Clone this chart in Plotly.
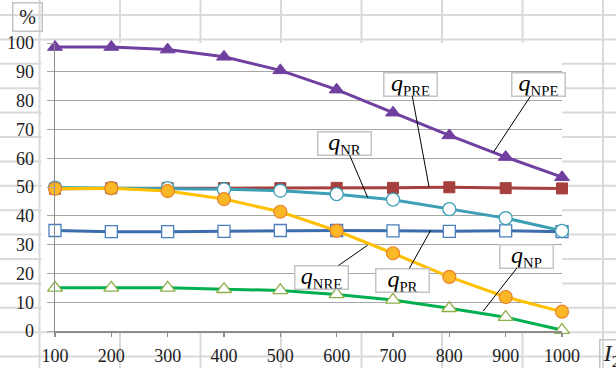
import plotly.graph_objects as go

# ---- data ----
I2 = [100, 200, 300, 400, 500, 600, 700, 800, 900, 1000]
q_NPE = [98.6, 98.6, 97.7, 95.2, 90.5, 83.8, 75.8, 67.9, 60.4, 53.4]
q_PRE = [49.4, 49.6, 49.6, 49.6, 49.6, 49.7, 49.7, 49.9, 49.6, 49.5]
q_NR = [49.8, 49.6, 49.6, 49.2, 48.7, 47.5, 45.6, 42.3, 39.2, 34.8]
q_NRE = [34.9, 34.5, 34.5, 34.6, 34.9, 34.9, 34.8, 34.6, 34.8, 34.5]
q_PR = [49.4, 49.6, 48.6, 45.8, 41.4, 34.8, 27.0, 18.8, 11.8, 6.7]
q_NP = [15.0, 15.0, 15.0, 14.5, 14.1, 12.7, 10.8, 7.9, 4.8, 0.3]
y_ticks = [0, 10, 20, 30, 40, 50, 60, 70, 80, 90, 100]
x_ticks = [100, 200, 300, 400, 500, 600, 700, 800, 900, 1000]

W, H = 616, 368
ML, MR, MT, MB = 55, 54, 43, 37
PW, PH = W - ML - MR, H - MT - MB
SERIF = "Liberation Serif"


def px(x):
    return (x - ML) / PW


def py(y):
    return (H - MB - y) / PH


fig = go.Figure()

series = [
    ("PRE", q_PRE, "#A5403E", dict(symbol="square", size=11, color="#A5403E",
                                    line=dict(color="#A5403E", width=1))),
    ("NRE", q_NRE, "#3E6DAE", dict(symbol="square", size=12, color="white",
                                    line=dict(color="#4A7EBB", width=1.3))),
    ("NR", q_NR, "#3D9FB6", dict(symbol="circle", size=13, color="white",
                                  line=dict(color="#3D9FB6", width=1.3))),
    ("NP", q_NP, "#00B050", dict(symbol="triangle-up", size=13, color="white",
                                  line=dict(color="#8CB04A", width=1.3))),
    ("PR", q_PR, "#FFC000", dict(symbol="circle", size=13, color="#FBB726",
                                  line=dict(color="#E8822A", width=1.2))),
    ("NPE", q_NPE, "#7040A0", dict(symbol="triangle-up", size=13, color="#7040A0",
                                    line=dict(color="#7040A0", width=1))),
]
for name, vals, col, mk in series:
    fig.add_trace(go.Scatter(x=I2, y=vals, mode="lines+markers", name=name,
                             line=dict(color=col, width=3), marker=mk,
                             cliponaxis=False, showlegend=False))

# spreadsheet cell grid behind the chart
shapes = []
for gx in [39.5, 120, 200.5, 281, 361.5, 442, 522.5, 603]:
    shapes.append(dict(type="line", xref="paper", yref="paper", x0=px(gx), x1=px(gx),
                       y0=py(-5), y1=py(H + 5), line=dict(color="#DADADA", width=2),
                       layer="below"))
for k in range(15):
    gy = 15 + 24.4 * k
    shapes.append(dict(type="line", xref="paper", yref="paper", x0=px(-5), x1=px(W + 5),
                       y0=py(gy), y1=py(gy), line=dict(color="#DADADA", width=2),
                       layer="below"))
shapes.append(dict(type="rect", xref="paper", yref="paper", x0=px(41.5), x1=1,
                   y0=0, y1=1, fillcolor="white", line=dict(width=0), layer="below"))
fig.update_layout(shapes=shapes)

# labelled boxes with leader lines
labels = [
    ("PRE", 764, 50.0, -19, -103),
    ("NPE", 878, 62.0, 45, -68),
    ("NR", 655, 46.4, -23, -54),
    ("NRE", 655, 29.8, -46, 32),
    ("PR", 767, 35.0, -28, 50),
    ("NP", 860, 6.9, 43, -55),
]
for sub, tx, ty, ax, ay in labels:
    fig.add_annotation(x=tx, y=ty, ax=ax, ay=ay, xref="x", yref="y",
                       text='<span style="font-size:24px"><i>q</i></span><span style="font-size:21px"><sub>%s</sub></span>' % sub,
                       showarrow=True, arrowhead=0, arrowwidth=1, arrowcolor="black",
                       font=dict(family=SERIF, size=18, color="black"),
                       bgcolor="white", bordercolor="#C4C4C4", borderwidth=1.5,
                       width=52, height=22, borderpad=0)

fig.add_annotation(xref="paper", yref="paper", x=px(12), y=py(2), xanchor="left", yanchor="top",
                   text="%", showarrow=False, font=dict(family=SERIF, size=20, color="#222"),
                   bordercolor="#C4C4C4", borderwidth=1.5, width=28, height=27, borderpad=0)
fig.add_annotation(xref="paper", yref="paper", x=px(599), y=py(339), xanchor="left", yanchor="top",
                   text='<i>I</i><sub>2</sub>', showarrow=False,
                   font=dict(family=SERIF, size=24, color="#222"),
                   bordercolor="#C4C4C4", borderwidth=1.5, width=22, height=30, borderpad=0)

fig.update_layout(
    template="none",
    width=W, height=H, autosize=False,
    margin=dict(l=ML, r=MR, t=MT, b=MB, pad=0, autoexpand=False),
    paper_bgcolor="white", plot_bgcolor="rgba(0,0,0,0)",
    xaxis=dict(range=[100, 1000], tickvals=x_ticks, ticktext=[str(v) for v in x_ticks],
               automargin=False,
               showgrid=False, zeroline=False, showline=True, linecolor="#8C8C8C", linewidth=1.5,
               ticks="outside", ticklen=4, tickcolor="#8C8C8C", tickwidth=1.5,
               ticklabelstandoff=4,
               tickfont=dict(family=SERIF, size=18, color="#222")),
    yaxis=dict(range=[0, 100], tickvals=y_ticks, ticktext=[str(v) for v in y_ticks],
               automargin=False,
               showgrid=True, gridcolor="#A6A6A6", gridwidth=1, zeroline=False,
               showline=True, linecolor="#8C8C8C", linewidth=1.5,
               ticks="outside", ticklen=7, tickcolor="#A6A6A6", tickwidth=1,
               ticklabelstandoff=9,
               tickfont=dict(family=SERIF, size=18, color="#222")),
)

fig.write_html("out.html", config={"displayModeBar": False, "staticPlot": True},
               post_script="document.body.style.margin='0';document.body.style.overflow='hidden';")
